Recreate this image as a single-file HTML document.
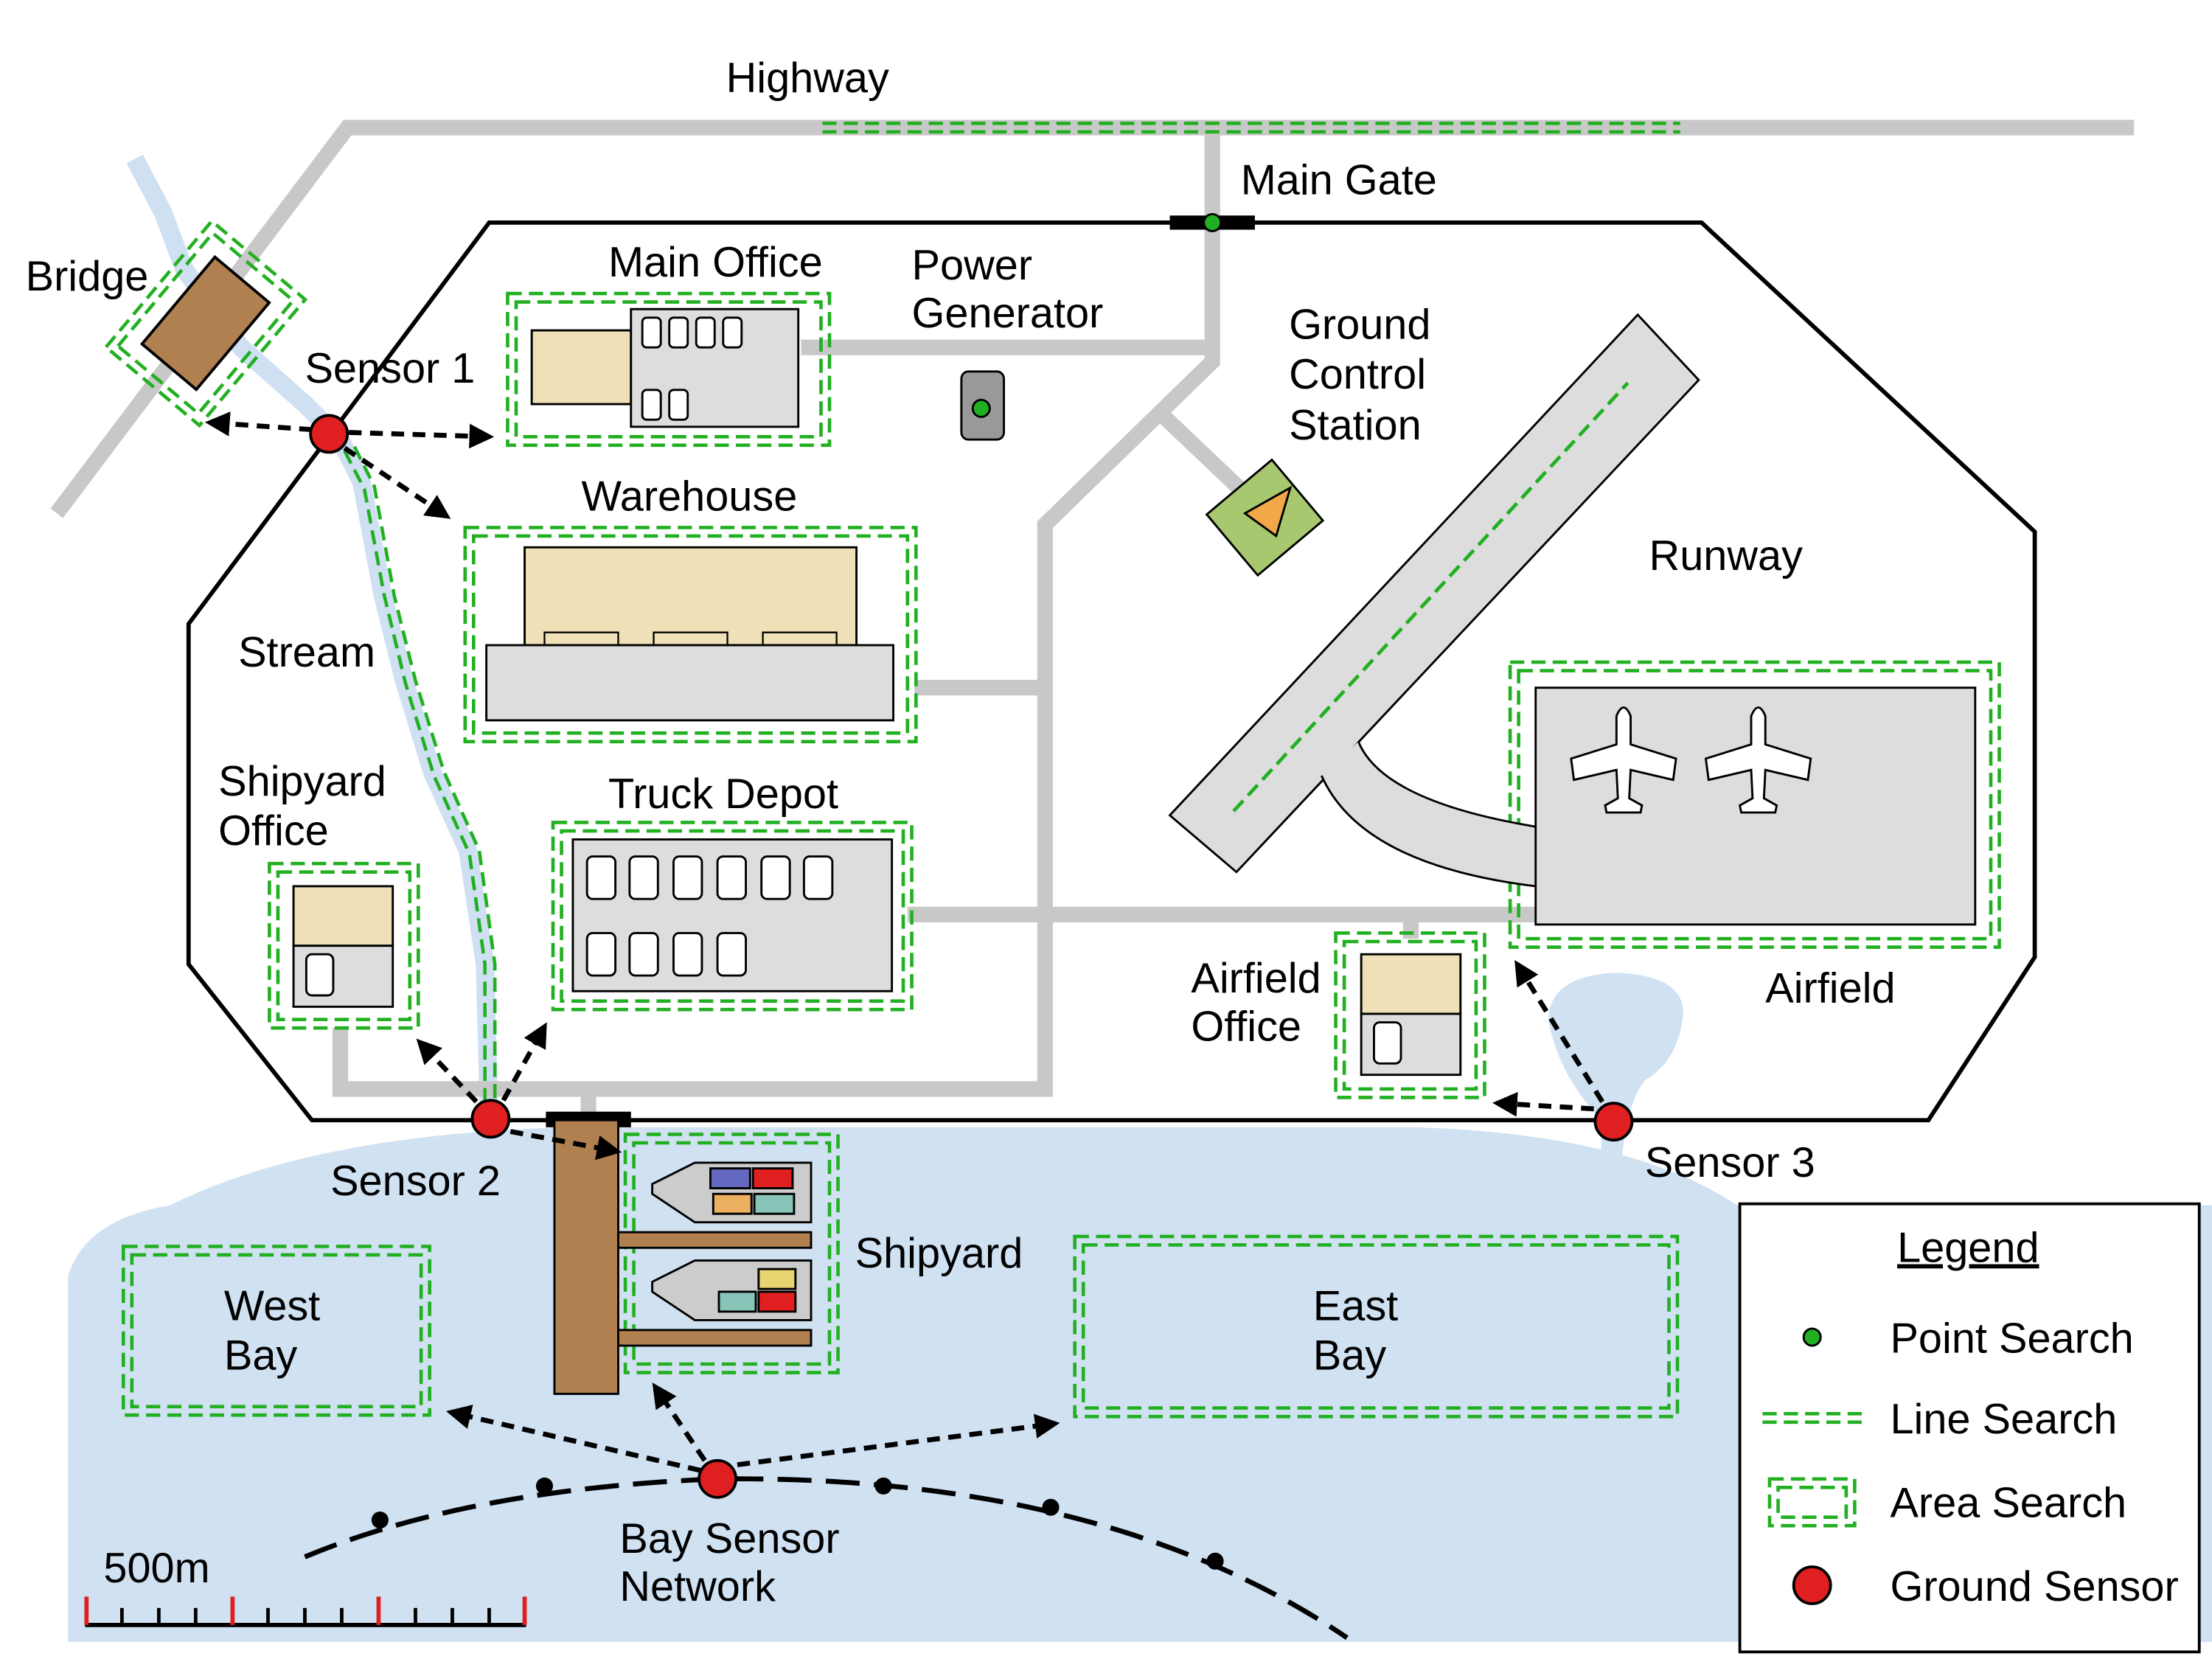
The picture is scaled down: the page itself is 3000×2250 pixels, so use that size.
<!DOCTYPE html>
<html><head><meta charset="utf-8"><style>
html,body{margin:0;padding:0;background:#fff}
svg{display:block}
text{font-family:"Liberation Sans",sans-serif;font-size:30px;fill:#000}
</style></head><body>
<svg width="3000" height="2250" viewBox="0 0 1560 1170" xmlns="http://www.w3.org/2000/svg">
<defs>
<marker id="ah" viewBox="0 0 10 10" refX="8" refY="5" markerWidth="5" markerHeight="5" orient="auto"><path d="M0,0 L10,5 L0,10 z" fill="#000"/></marker>
</defs>
<rect width="1560" height="1170" fill="#fff"/>
<path d="M48,1158 L48,900 Q60,860 120,850 Q220,800 400,795 L1000,795 Q1150,800 1225,850 L1560,850 L1560,1158 Z" fill="#d0e1f2"/>
<path d="M1128,840 L1130,790 Q1100,760 1092,720 Q1092,688 1140,686 Q1188,688 1187,715 Q1184,748 1160,762 Q1145,780 1142,840 Z" fill="#d0e1f2"/>
<polyline points="95,112 115,150 130,190 170,245 215,285 240,310 255,340 270,420 285,480 305,545 330,600 342,680 345,790" fill="none" stroke="#cfe0f2" stroke-width="13" stroke-linejoin="round"/>
<g fill="none" stroke="#c8c8c8" stroke-width="11">
<polyline points="40,362 245,90 1505,90"/>
<polyline points="855,90 855,255 737,370 737,768 240,768 240,725"/>
<line x1="855" y1="245" x2="565" y2="245"/>
<line x1="820" y1="293" x2="880" y2="350"/>
<line x1="645" y1="485" x2="737" y2="485"/>
<line x1="640" y1="645" x2="1085" y2="645"/>
<line x1="995" y1="645" x2="995" y2="662"/>
<line x1="415" y1="768" x2="415" y2="790"/>
</g>
<g stroke="#22b022" stroke-width="2.4" stroke-dasharray="10,5"><line x1="580" y1="87" x2="1185" y2="87"/><line x1="580" y1="93" x2="1185" y2="93"/></g>
<g fill="none" stroke="#22b022" stroke-width="2.4" stroke-dasharray="10,5">
<polyline points="243,318 257,345 271,420 286,482 306,547 331,602 342,680 342,780"/>
<polyline points="250,315 264,343 278,420 293,480 313,544 338,600 349,680 349,780"/>
</g>
<polygon points="345,157 1200,157 1435,375 1435,675 1360,790 220,790 133,680 133,440" fill="none" stroke="#000" stroke-width="3"/>
<rect x="825" y="152" width="60" height="10" fill="#000"/>
<circle cx="855" cy="157" r="6" fill="#22b022" stroke="#000" stroke-width="1.5"/>
<rect x="385" y="784" width="60" height="11" fill="#000"/>
<g transform="translate(145,228) rotate(-50)">
<rect x="-40" y="-25" width="80" height="50" fill="#b08050" stroke="#000" stroke-width="2"/>
<rect x="-52" y="-37" width="104" height="74" fill="none" stroke="#22b022" stroke-width="2.4" stroke-dasharray="10,5"/>
<rect x="-58" y="-43" width="116" height="86" fill="none" stroke="#22b022" stroke-width="2.4" stroke-dasharray="10,5"/>
</g>
<g fill="none" stroke="#22b022" stroke-width="2.4" stroke-dasharray="10,5">
<rect x="358" y="207" width="227" height="107"/><rect x="364" y="213" width="215" height="95"/>
<rect x="328" y="372" width="318" height="151"/><rect x="334" y="378" width="306" height="139"/>
<rect x="390" y="580" width="253" height="132"/><rect x="396" y="586" width="241" height="120"/>
<rect x="190" y="609" width="105" height="116"/><rect x="196" y="615" width="93" height="104"/>
<rect x="942" y="658" width="105" height="116"/><rect x="948" y="664" width="93" height="104"/>
<rect x="1065" y="467" width="345" height="201"/><rect x="1071" y="473" width="333" height="189"/>
<rect x="441" y="800" width="150" height="168"/><rect x="447" y="806" width="138" height="156"/>
<rect x="87" y="879" width="216" height="119"/><rect x="93" y="885" width="204" height="107"/>
<rect x="758" y="872" width="425" height="127"/><rect x="764" y="878" width="413" height="115"/>
</g>
<rect x="375" y="233" width="70" height="52" fill="#f0e0b8" stroke="#000" stroke-width="1.5"/>
<rect x="445" y="218" width="118" height="83" fill="#ddd" stroke="#000" stroke-width="1.5"/>
<g fill="#fff" stroke="#000" stroke-width="1.5">
<rect x="453" y="224" width="13" height="21" rx="3"/><rect x="472" y="224" width="13" height="21" rx="3"/><rect x="491" y="224" width="13" height="21" rx="3"/><rect x="510" y="224" width="13" height="21" rx="3"/>
<rect x="453" y="275" width="13" height="21" rx="3"/><rect x="472" y="275" width="13" height="21" rx="3"/>
</g>
<rect x="678" y="262" width="30" height="48" rx="5" fill="#999" stroke="#000" stroke-width="1.5"/>
<circle cx="692" cy="288" r="6" fill="#22b022" stroke="#000" stroke-width="1.5"/>
<g transform="translate(892,365) rotate(-40)">
<rect x="-30" y="-28" width="60" height="56" fill="#a8c870" stroke="#000" stroke-width="1.5"/>
</g>
<polygon points="878,362 910,344 900,378" fill="#f0a848" stroke="#000" stroke-width="1.5"/>
<polygon points="825,575 1155,222 1198,268 872,615" fill="#ddd" stroke="#000" stroke-width="1.5"/>
<line x1="870" y1="572" x2="1148" y2="270" stroke="#22b022" stroke-width="2.5" stroke-dasharray="10,5"/>
<path d="M958,523 Q975,565 1083,583 L1083,625 Q960,610 932,547 Z" fill="#ddd"/>
<path d="M958,523 Q975,565 1083,583 M932,547 Q960,610 1083,625" fill="none" stroke="#000" stroke-width="1.5"/>
<rect x="1083" y="485" width="310" height="167" fill="#ddd" stroke="#000" stroke-width="1.5"/>
<g fill="#fff" stroke="#000" stroke-width="1.5">
<g transform="translate(1145,535)">
<path d="M-5,-30 Q0,-42 5,-30 L5,-10 L37,0 L35,15 L5,8 L4,28 L13,33 L12,38 L-12,38 L-13,33 L-4,28 L-5,8 L-35,15 L-37,0 L-5,-10 Z"/>
</g>
<g transform="translate(1240,535)">
<path d="M-5,-30 Q0,-42 5,-30 L5,-10 L37,0 L35,15 L5,8 L4,28 L13,33 L12,38 L-12,38 L-13,33 L-4,28 L-5,8 L-35,15 L-37,0 L-5,-10 Z"/>
</g>
</g>
<rect x="370" y="386" width="234" height="69" fill="#f0e0b8" stroke="#000" stroke-width="1.5"/>
<g fill="#f0e0b8" stroke="#000" stroke-width="1.2">
<rect x="384" y="446" width="52" height="9"/><rect x="461" y="446" width="52" height="9"/><rect x="538" y="446" width="52" height="9"/>
</g>
<rect x="343" y="455" width="287" height="53" fill="#ddd" stroke="#000" stroke-width="1.5"/>
<rect x="404" y="592" width="225" height="107" fill="#ddd" stroke="#000" stroke-width="1.5"/>
<g fill="#fff" stroke="#000" stroke-width="1.5">
<rect x="414" y="604" width="20" height="30" rx="4"/><rect x="444" y="604" width="20" height="30" rx="4"/><rect x="475" y="604" width="20" height="30" rx="4"/><rect x="506" y="604" width="20" height="30" rx="4"/><rect x="537" y="604" width="20" height="30" rx="4"/><rect x="567" y="604" width="20" height="30" rx="4"/>
<rect x="414" y="658" width="20" height="30" rx="4"/><rect x="444" y="658" width="20" height="30" rx="4"/><rect x="475" y="658" width="20" height="30" rx="4"/><rect x="506" y="658" width="20" height="30" rx="4"/>
</g>
<rect x="207" y="625" width="70" height="42" fill="#f0e0b8" stroke="#000" stroke-width="1.5"/>
<rect x="207" y="667" width="70" height="43" fill="#ddd" stroke="#000" stroke-width="1.5"/>
<rect x="216" y="673" width="19" height="29" rx="4" fill="#fff" stroke="#000" stroke-width="1.5"/>
<rect x="960" y="673" width="70" height="42" fill="#f0e0b8" stroke="#000" stroke-width="1.5"/>
<rect x="960" y="715" width="70" height="43" fill="#ddd" stroke="#000" stroke-width="1.5"/>
<rect x="969" y="721" width="19" height="29" rx="4" fill="#fff" stroke="#000" stroke-width="1.5"/>
<rect x="391" y="790" width="45" height="193" fill="#b08050" stroke="#000" stroke-width="1.5"/>
<rect x="436" y="869" width="136" height="11" fill="#b08050" stroke="#000" stroke-width="1.5"/>
<rect x="436" y="938" width="136" height="11" fill="#b08050" stroke="#000" stroke-width="1.5"/>
<polygon points="490,820 572,820 572,862 490,862 460,842 460,835" fill="#ccc" stroke="#000" stroke-width="1.5"/>
<rect x="501" y="824" width="28" height="14" fill="#6468c0" stroke="#000" stroke-width="1.5"/>
<rect x="531" y="824" width="28" height="14" fill="#e02020" stroke="#000" stroke-width="1.5"/>
<rect x="503" y="842" width="27" height="14" fill="#ecb060" stroke="#000" stroke-width="1.5"/>
<rect x="532" y="842" width="28" height="14" fill="#88c4b8" stroke="#000" stroke-width="1.5"/>
<polygon points="490,889 572,889 572,931 490,931 460,911 460,904" fill="#ccc" stroke="#000" stroke-width="1.5"/>
<rect x="535" y="895" width="26" height="14" fill="#e8d470" stroke="#000" stroke-width="1.5"/>
<rect x="507" y="911" width="26" height="14" fill="#88c4b8" stroke="#000" stroke-width="1.5"/>
<rect x="535" y="911" width="26" height="14" fill="#e02020" stroke="#000" stroke-width="1.5"/>
<path d="M215,1098 Q330,1050 506,1043 Q780,1040 950,1155" fill="none" stroke="#000" stroke-width="3.5" stroke-dasharray="24,10"/>
<g fill="#000"><circle cx="268" cy="1072" r="6"/><circle cx="384" cy="1048" r="6"/><circle cx="623" cy="1048" r="6"/><circle cx="741" cy="1063" r="6"/><circle cx="857" cy="1101" r="6"/></g>
<g stroke="#000" stroke-width="3.5" stroke-dasharray="9,6" fill="none" marker-end="url(#ah)">
<line x1="220" y1="303" x2="148" y2="298"/>
<line x1="246" y1="305" x2="345" y2="308"/>
<line x1="243" y1="316" x2="315" y2="364"/>
<line x1="336" y1="777" x2="296" y2="735"/>
<line x1="355" y1="776" x2="384" y2="724"/>
<line x1="360" y1="798" x2="435" y2="812"/>
<line x1="1124" y1="782" x2="1056" y2="778"/>
<line x1="1130" y1="777" x2="1070" y2="680"/>
<line x1="494" y1="1037" x2="318" y2="996"/>
<line x1="497" y1="1030" x2="462" y2="978"/>
<line x1="520" y1="1033" x2="744" y2="1004"/>
</g>
<g fill="#e02020" stroke="#000" stroke-width="2">
<circle cx="232" cy="306" r="13"/><circle cx="346" cy="789" r="13"/><circle cx="1138" cy="791" r="13"/><circle cx="506" cy="1043" r="13"/>
</g>
<g stroke="#000" stroke-width="3"><line x1="60" y1="1146" x2="371" y2="1146"/></g>
<g stroke="#000" stroke-width="2.5">
<line x1="86" y1="1146" x2="86" y2="1134"/><line x1="112" y1="1146" x2="112" y2="1134"/><line x1="138" y1="1146" x2="138" y2="1134"/>
<line x1="189" y1="1146" x2="189" y2="1134"/><line x1="215" y1="1146" x2="215" y2="1134"/><line x1="241" y1="1146" x2="241" y2="1134"/>
<line x1="293" y1="1146" x2="293" y2="1134"/><line x1="319" y1="1146" x2="319" y2="1134"/><line x1="345" y1="1146" x2="345" y2="1134"/>
</g>
<g stroke="#e02020" stroke-width="3">
<line x1="61" y1="1146" x2="61" y2="1126"/><line x1="164" y1="1146" x2="164" y2="1126"/><line x1="267" y1="1146" x2="267" y2="1126"/><line x1="370" y1="1146" x2="370" y2="1126"/>
</g>
<rect x="1227" y="849" width="324" height="316" fill="#fff" stroke="#000" stroke-width="2"/>
<text x="1338" y="890" text-decoration="underline">Legend</text>
<circle cx="1278" cy="943" r="6" fill="#22b022" stroke="#000" stroke-width="1.5"/>
<g stroke="#22b022" stroke-width="2.4" stroke-dasharray="10,5"><line x1="1243" y1="997" x2="1313" y2="997"/><line x1="1243" y1="1003" x2="1313" y2="1003"/></g>
<g fill="none" stroke="#22b022" stroke-width="2.4" stroke-dasharray="10,5"><rect x="1248" y="1043" width="60" height="33"/><rect x="1254" y="1049" width="48" height="21"/></g>
<circle cx="1278" cy="1118" r="13" fill="#e02020" stroke="#000" stroke-width="2"/>
<text x="1333" y="954">Point Search</text>
<text x="1333" y="1011">Line Search</text>
<text x="1333" y="1070">Area Search</text>
<text x="1333" y="1129">Ground Sensor</text>
<text x="512" y="65">Highway</text>
<text x="875" y="137">Main Gate</text>
<text x="18" y="205">Bridge</text>
<text x="429" y="195">Main Office</text>
<text x="643" y="197">Power</text>
<text x="643" y="231">Generator</text>
<text x="909" y="239">Ground</text>
<text x="909" y="274">Control</text>
<text x="909" y="310">Station</text>
<text x="215" y="270">Sensor 1</text>
<text x="410" y="360">Warehouse</text>
<text x="1163" y="402">Runway</text>
<text x="168" y="470">Stream</text>
<text x="154" y="561">Shipyard</text>
<text x="154" y="596">Office</text>
<text x="429" y="570">Truck Depot</text>
<text x="840" y="700">Airfield</text>
<text x="840" y="734">Office</text>
<text x="1245" y="707">Airfield</text>
<text x="233" y="843">Sensor 2</text>
<text x="1160" y="830">Sensor 3</text>
<text x="603" y="894">Shipyard</text>
<text x="158" y="931">West</text>
<text x="158" y="966">Bay</text>
<text x="926" y="931">East</text>
<text x="926" y="966">Bay</text>
<text x="437" y="1095">Bay Sensor</text>
<text x="437" y="1129">Network</text>
<text x="73" y="1116">500m</text>
</svg>
</body></html>
